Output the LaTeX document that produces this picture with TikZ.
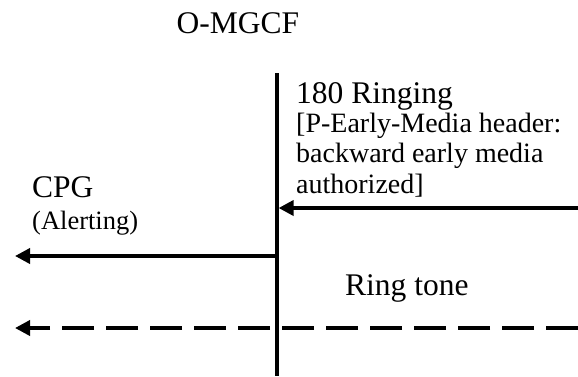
\documentclass[tikz,border=0pt]{standalone}
\usepackage{fontspec}
\setmainfont{Liberation Serif}
\usetikzlibrary{arrows.meta}
\tikzset{
  big/.style={font=\fontsize{31.5}{36}\selectfont, inner sep=0pt, anchor=base west},
  small/.style={font=\fontsize{26.5}{30}\selectfont, inner sep=0pt, anchor=base west},
  note/.style={font=\fontsize{28}{30}\selectfont, inner sep=0pt, anchor=base west},
  lifeline/.style={line width=3.3pt},
  msg/.style={line width=3.6pt, -{Triangle[length=15pt,width=15pt]}},
  media/.style={msg, dash pattern=on 32pt off 12pt}
}
\begin{document}
\begin{tikzpicture}[x=1pt,y=-1pt]
\useasboundingbox (0,0) rectangle (578,376);
% entity
\node[big, anchor=base] (title) at (238,33) {O-MGCF};
\coordinate (ltop) at (277,73);
\coordinate (lbot) at (277,376);
\draw[lifeline] (ltop) -- (lbot);
% 180 Ringing
\coordinate (r1) at (578,208);
\coordinate (e1) at (278.6,208);
\draw[msg] (r1) -- (e1);
\node[big] (ringing) at (296,103) {180 Ringing};
\node[note] (pem1) at (296,132) {[P-Early-Media header:};
\node[note] (pem2) at (296,162.5) {backward early media};
\node[note] (pem3) at (296,193) {authorized]};
% CPG
\coordinate (s2) at (277,256);
\coordinate (e2) at (15,256);
\draw[msg] (s2) -- (e2);
\node[big] (cpg) at (32,197) {CPG};
\node[small] (alert) at (32,229) {(Alerting)};
% Ring tone
\coordinate (s3) at (578,328);
\coordinate (e3) at (15,328);
\draw[media] (s3) -- (e3);
\node[big] (tone) at (345,295) {Ring tone};
\end{tikzpicture}
\end{document}
